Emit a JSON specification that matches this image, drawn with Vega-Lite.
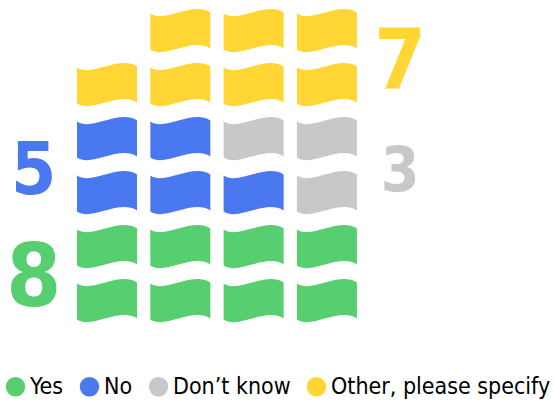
{
  "$schema": "https://vega.github.io/schema/vega-lite/v6.json",
  "width": 554,
  "height": 401,
  "padding": 0,
  "autosize": {"type": "none"},
  "background": "white",
  "config": {"view": {"stroke": null}},
  "datasets": {
    "flags": [
      {"col": 1, "row": 1, "category": "Yes"},
      {"col": 1, "row": 2, "category": "Yes"},
      {"col": 1, "row": 3, "category": "No"},
      {"col": 1, "row": 4, "category": "No"},
      {"col": 1, "row": 5, "category": "Other, please specify"},
      {"col": 2, "row": 1, "category": "Yes"},
      {"col": 2, "row": 2, "category": "Yes"},
      {"col": 2, "row": 3, "category": "No"},
      {"col": 2, "row": 4, "category": "No"},
      {"col": 2, "row": 5, "category": "Other, please specify"},
      {"col": 2, "row": 6, "category": "Other, please specify"},
      {"col": 3, "row": 1, "category": "Yes"},
      {"col": 3, "row": 2, "category": "Yes"},
      {"col": 3, "row": 3, "category": "No"},
      {"col": 3, "row": 4, "category": "Don’t know"},
      {"col": 3, "row": 5, "category": "Other, please specify"},
      {"col": 3, "row": 6, "category": "Other, please specify"},
      {"col": 4, "row": 1, "category": "Yes"},
      {"col": 4, "row": 2, "category": "Yes"},
      {"col": 4, "row": 3, "category": "Don’t know"},
      {"col": 4, "row": 4, "category": "Don’t know"},
      {"col": 4, "row": 5, "category": "Other, please specify"},
      {"col": 4, "row": 6, "category": "Other, please specify"}
    ],
    "labels": [
      {"category": "Yes", "count": 8, "col": 0, "row": 1.5},
      {"category": "No", "count": 5, "col": 0, "row": 3.5},
      {"category": "Don’t know", "count": 3, "col": 5, "row": 3.5},
      {"category": "Other, please specify", "count": 7, "col": 5, "row": 5.5}
    ]
  },
  "layer": [
    {
      "data": {"name": "flags"},
      "mark": {
        "type": "point",
        "shape": "M -1 -0.58 C -0.5 -0.25 0.4 -1.0 1 -0.62 L 1 0.58 C 0.4 0.2 -0.5 0.95 -1 0.62 Z",
        "size": 3600,
        "filled": true,
        "opacity": 1,
        "strokeWidth": 0
      },
      "encoding": {
        "x": {"field": "col", "type": "quantitative", "scale": {"domain": [-0.46, 7.098], "nice": false, "zero": false}, "axis": null},
        "y": {"field": "row", "type": "quantitative", "scale": {"domain": [-0.852, 6.574], "nice": false, "zero": false}, "axis": null},
        "fill": {
          "field": "category",
          "type": "nominal",
          "scale": {
            "domain": ["Yes", "No", "Don’t know", "Other, please specify"],
            "range": ["#57CE70", "#4A78F0", "#C8C8C8", "#FFD633"]
          },
          "legend": {
            "title": null,
            "orient": "none",
            "legendX": 4,
            "legendY": 375,
            "direction": "horizontal",
            "symbolType": "circle",
            "symbolSize": 380,
            "symbolStrokeWidth": 0,
            "symbolOpacity": 1,
            "labelFont": "DejaVu Sans Condensed, Liberation Sans Narrow, Roboto",
            "labelFontSize": 23,
            "labelColor": "#000000",
            "labelOffset": 3,
            "labelLimit": 0,
            "columnPadding": 14,
            "padding": 0
          }
        }
      }
    },
    {
      "data": {"name": "labels"},
      "mark": {
        "type": "text",
        "font": "DejaVu Sans Condensed, Liberation Sans Narrow, Roboto",
        "fontWeight": "bold",
        "align": "center",
        "baseline": "middle",
        "dy": 6
      },
      "encoding": {
        "x": {"field": "col", "type": "quantitative"},
        "y": {"field": "row", "type": "quantitative"},
        "text": {"field": "count", "type": "quantitative"},
        "size": {"field": "count", "type": "quantitative", "scale": {"domain": [3, 8], "range": [62, 88], "zero": false}, "legend": null},
        "fill": {"field": "category", "type": "nominal"}
      }
    }
  ]
}
